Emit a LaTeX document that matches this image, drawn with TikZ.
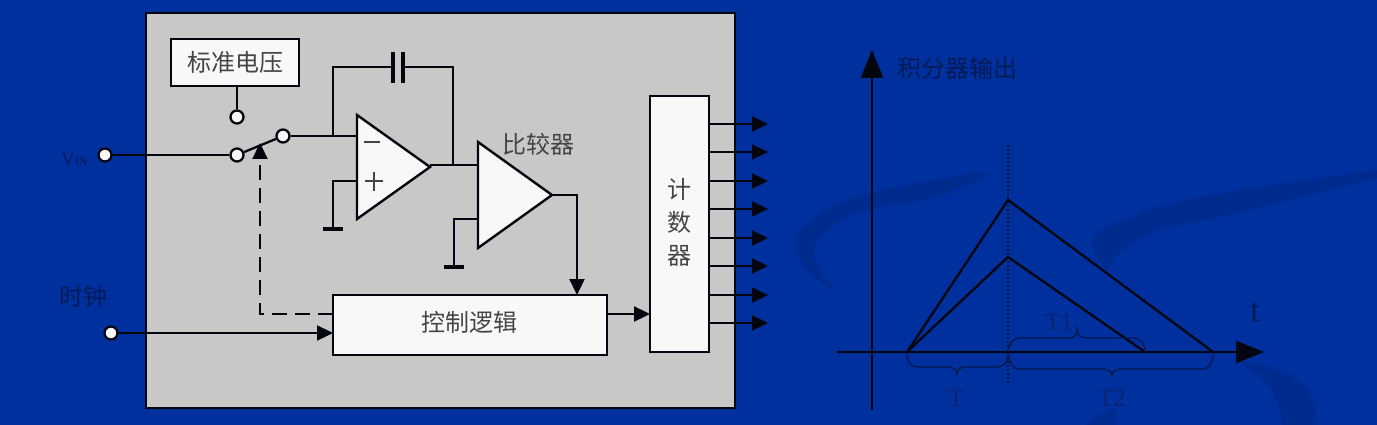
\documentclass[tikz,border=0pt]{standalone}
\usepackage{fontspec}
\setmainfont{Liberation Serif}
\newfontfamily\cjk{Noto Sans CJK SC}
\usetikzlibrary{arrows.meta}
\definecolor{bgblue}{HTML}{00309E}
\definecolor{swooshd}{HTML}{002B8E}
\definecolor{panel}{HTML}{C8C8C8}
\definecolor{paper}{HTML}{F8F8F8}
\definecolor{ink}{HTML}{04060F}
\definecolor{cjkgray}{HTML}{444444}
\definecolor{dimtext}{HTML}{0A2270}
\tikzset{
  wire/.style={draw=ink,line width=2.3pt,line join=miter},
  arrowwire/.style={wire,-{Triangle[length=16pt,width=15pt]}},
  bigarrow/.style={wire,-{Triangle[length=28pt,width=22pt]}},
  block/.style={draw=ink,line width=2.3pt,fill=paper,inner sep=0pt,outer sep=0pt},
  pin/.style={circle,draw=ink,line width=2.3pt,fill=paper,minimum size=13pt,inner sep=0pt},
  amp/.style={draw=ink,line width=2.4pt,fill=paper,line join=miter},
  gnd/.style={draw=ink,line width=3.5pt},
  cjklabel/.style={text=cjkgray,font=\cjk\fontsize{24}{26}\selectfont,inner sep=0pt},
  dimlabel/.style={text=dimtext,inner sep=0pt},
  bracewire/.style={draw=dimtext!70!black,line width=1.4pt},
  swooshfill/.style={fill=swooshd,draw=none}
}
\begin{document}
\begin{tikzpicture}[x=1pt,y=-1pt]
\useasboundingbox (0,0) rectangle (1377,425);
\fill[bgblue] (0,0) rectangle (1377,425);
% background swooshes
\fill[swooshfill] plot[smooth cycle,tension=0.6] coordinates {(974,173) (856,197) (807,223) (795,243) (807,270) (833,290) (816,263) (818,240) (856,213) (932,198) (978,180)};
\fill[swooshfill] plot[smooth,tension=0.6] coordinates {(1377,170) (1199,197) (1123,220) (1092,240) (1107,270) (1119,253) (1161,230) (1237,213) (1377,178)} -- cycle;
\fill[swooshfill] plot[smooth,tension=0.6] coordinates {(1237,360) (1286,373) (1313,397) (1315,425)} -- (1282,425) -- plot[smooth,tension=0.6] coordinates {(1282,425) (1275,397) (1260,377) (1237,360)} -- cycle;
\fill[swooshfill] (1085,425) .. controls (1095,417) and (1105,411) .. (1115,407) -- (1115,425) -- cycle;
% panel
\node[draw=ink,line width=2.3pt,fill=panel,minimum width=589pt,minimum height=395pt,inner sep=0pt,outer sep=0pt,anchor=north west] (panel) at (146,13) {};
% blocks
\node[block,minimum width=128pt,minimum height=47pt,anchor=north west] (ref) at (171,39) {};
\node[cjklabel] at (235,62) {标准电压};
\node[block,minimum width=274pt,minimum height=60pt,anchor=north west] (ctrl) at (333,295) {};
\node[cjklabel] at (469,322) {控制逻辑};
\node[block,minimum width=59pt,minimum height=256pt,anchor=north west] (cnt) at (650,96) {};
\node[cjklabel,align=center,font=\cjk\fontsize{24}{33}\selectfont] at (679,222) {计\\数\\器};
% pins
\node[pin] (vin) at (105,155) {};
\node[pin] (clk) at (111,333) {};
\node[pin] (sref) at (237,117) {};
\node[pin] (sin) at (237,155) {};
\node[pin] (sout) at (283,136) {};
% amplifiers
\draw[amp] (357,115) coordinate (a1t) -- (430,167) coordinate (a1o) -- (357,219) coordinate (a1b) -- cycle;
\draw[amp] (478,142) coordinate (a2t) -- (552,195) coordinate (a2o) -- (478,248) coordinate (a2b) -- cycle;
\draw[draw=cjkgray,line width=1.3pt] (364,142) -- (380,142) (365,181) -- (383,181) (374,172) -- (374,191);
% coordinates
\coordinate (a1m) at (357,136);
\coordinate (a1p) at (357,181);
\coordinate (a2m) at (478,165);
\coordinate (a2p) at (478,219);
\coordinate (g1) at (333,229);
\coordinate (g2) at (454,267);
\coordinate (fbj) at (333,136);
\coordinate (fbl) at (333,67);
\coordinate (capl) at (393,67);
\coordinate (capr) at (403,67);
\coordinate (fbr) at (453,67);
\coordinate (fbd) at (453,165);
\coordinate (c2) at (577,195);
\coordinate (c3) at (577,295);
% wires
\draw[wire] (ref.south -| sref) -- (sref);
\draw[wire] (vin) -- (sin);
\draw[wire] (sin) -- (sout);
\draw[wire] (sout) -- (a1m);
\draw[wire] (fbj) -- (fbl) -- (capl);
\draw[wire] (capr) -- (fbr) -- (fbd);
\draw[draw=ink,line width=3.5pt] (393,52) -- (393,83) (403,52) -- (403,83);
\draw[wire] (a1p) -- (a1p -| g1) -- (g1);
\draw[gnd] (323,229) -- (343,229);
\draw[wire] (a1o |- a2m) -- (a2m);
\draw[wire] (a2p) -- (a2p -| g2) -- (g2);
\draw[gnd] (444,267) -- (464,267);
\draw[arrowwire] (a2o) -- (c2) -- (c3);
\draw[arrowwire] (ctrl.east |- 0,314) -- (cnt.west |- 0,314);
\draw[arrowwire] (clk) -- (ctrl.west |- clk);
\draw[arrowwire,dash pattern=on 15pt off 8pt] (ctrl.west |- 0,314) -- (260,314) -- (260,143);
\foreach \y in {124,152,181,209,238,266,295,323}
  \draw[arrowwire] (cnt.east |- 0,\y) -- (768,\y);
% labels
\node[cjklabel] at (538,144) {比较器};
\node[cjklabel,text=ink!50!bgblue] at (83,296) {时钟};
\node[dimlabel,anchor=west,font=\fontsize{19}{20}\selectfont,text=ink!50!bgblue] at (61,159) {V\fontsize{12}{12}\selectfont IN};
% chart
\coordinate (yb) at (872,410);
\coordinate (yt) at (872,50);
\coordinate (xl) at (837,352);
\coordinate (xr) at (1264,352);
\coordinate (o) at (907,352);
\coordinate (m) at (1008,352);
\coordinate (p1) at (1008,200);
\coordinate (p2) at (1008,257);
\coordinate (e1) at (1213,352);
\coordinate (e2) at (1145,352);
\draw[bigarrow] (yb) -- (yt);
\draw[bigarrow] (xl) -- (xr);
\draw[draw=ink!70!bgblue,line width=1.3pt,dash pattern=on 2pt off 2pt] (1008,145) -- (1008,383);
\draw[wire] (o) -- (p1) -- (e1);
\draw[wire] (o) -- (p2) -- (e2);
\draw[bracewire] (o) .. controls (907,362) and (910,367) .. (918,367) -- (948,367) .. controls (954,367) and (957,370) .. (957,374) .. controls (957,370) and (960,367) .. (966,367) -- (997,367) .. controls (1004,367) and (1008,362) .. (m);
\draw[bracewire] (m) .. controls (1009,363) and (1012,369) .. (1020,369) -- (1103,369) .. controls (1109,369) and (1112,372) .. (1112,376) .. controls (1112,372) and (1115,369) .. (1121,369) -- (1202,369) .. controls (1209,369) and (1213,363) .. (e1);
\draw[bracewire] (m) .. controls (1009,344) and (1012,338) .. (1020,338) -- (1069,338) .. controls (1075,338) and (1077,334) .. (1077,329) .. controls (1077,334) and (1080,338) .. (1086,338) -- (1134,338) .. controls (1141,338) and (1145,344) .. (e2);
\node[dimlabel,font=\cjk\fontsize{24}{26}\selectfont,text=ink!50!bgblue] at (957,68) {积分器输出};
\node[dimlabel,font=\fontsize{25}{26}\selectfont] at (956,398) {T};
\node[dimlabel,font=\fontsize{25}{26}\selectfont] at (1112,398) {T2};
\node[dimlabel,font=\fontsize{25}{26}\selectfont] at (1059,322) {T1};
\node[dimlabel,font=\fontsize{34}{34}\selectfont,text=ink!50!bgblue] at (1255,312) {t};
\end{tikzpicture}
\end{document}
